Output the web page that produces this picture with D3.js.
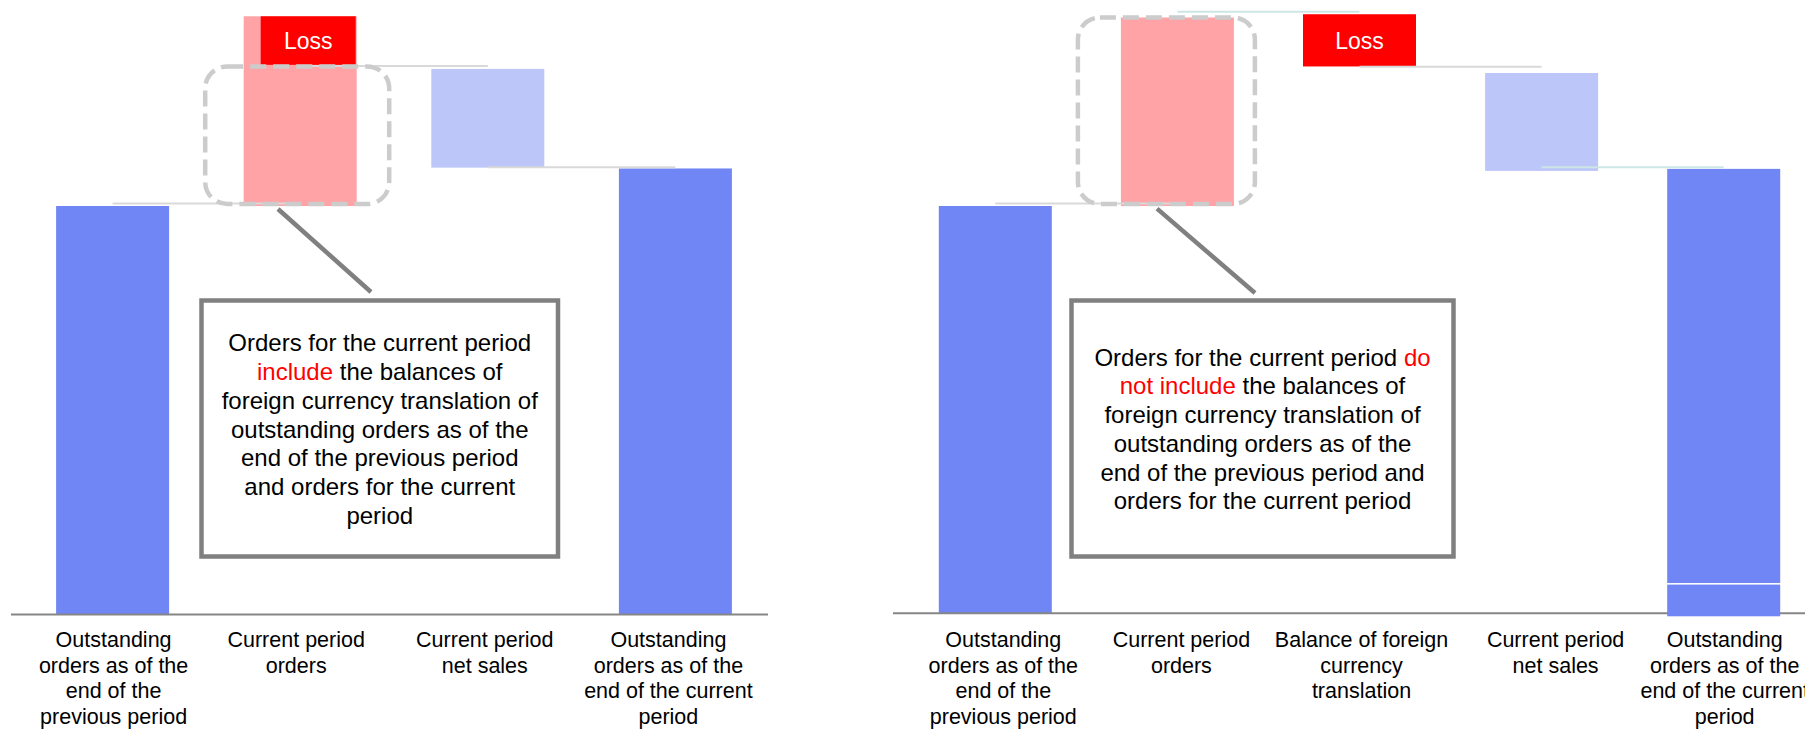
<!DOCTYPE html>
<html><head><meta charset="utf-8">
<script src="https://cdn.jsdelivr.net/npm/d3@7"></script>
<style>
html,body{margin:0;padding:0;background:#fff;overflow:hidden;}
svg{display:block;font-family:"Liberation Sans",Arial,Helvetica,sans-serif;}
</style></head><body>
<svg id="chart" width="1805" height="730"></svg>
<script>
// ---------- DATA ----------
// Left panel: waterfall where current period orders include FX translation
const leftCategories = [
  ["Outstanding", "orders as of the", "end of the", "previous period"],
  ["Current period", "orders"],
  ["Current period", "net sales"],
  ["Outstanding", "orders as of the", "end of the current", "period"]
];
const leftKinds = ["total", "increase", "decrease", "total"];
const leftLow  = [0, 100, 109.4, 0];
const leftHigh = [100, 146.5, 133.6, 109.2];
const leftLossRange = [134.6, 146.5];          // "Loss" overlay on the orders bar
const leftLinks = [100.5, 134.2, 109.4];       // connector levels between bars
const leftHighlight = [100.5, 134.2];          // dashed highlight range (orders bar)
const leftNote = [
  [["Orders for the current period", false]],
  [["include", true], [" the balances of", false]],
  [["foreign currency translation of", false]],
  [["outstanding orders as of the", false]],
  [["end of the previous period", false]],
  [["and orders for the current", false]],
  [["period", false]]
];

// Right panel: FX translation shown as its own step
const rightCategories = [
  ["Outstanding", "orders as of the", "end of the", "previous period"],
  ["Current period", "orders"],
  ["Balance of foreign", "currency", "translation"],
  ["Current period", "net sales"],
  ["Outstanding", "orders as of the", "end of the current", "period"]
];
const rightKinds = ["total", "increase", "loss", "decrease", "total"];
const rightLow  = [0, 100, 134.2, 108.6, 0];
const rightHigh = [100, 146.2, 147, 132.6, 109.1];
const rightEndSplit = 7.4;                      // split inside the closing bar
const rightLinks = [100.5, 147.5, 134, 109.4];
const rightHighlight = [100.5, 146.2];
const rightNote = [
  [["Orders for the current period ", false], ["do", true]],
  [["not include", true], [" the balances of", false]],
  [["foreign currency translation of", false]],
  [["outstanding orders as of the", false]],
  [["end of the previous period and", false]],
  [["orders for the current period", false]]
];

// ---------- STYLE ----------
const C = {
  total: "#7086F5",
  increase: "#FFA3A6",
  decrease: "#BCC6F8",
  loss: "#FF0000",
  axis: "#868686",
  link: "#D9D9D9",
  linkTeal: "#CDE5E5",
  dash: "#CCCCCC",
  box: "#808080",
  red: "#FF0000",
  text: "#000000"
};

const svg = d3.select("#chart");
const y = d3.scaleLinear().domain([0, 100]).range([614, 206]);

function bandScale(cats, firstStart, step, bw) {
  const pi = 1 - bw / step, po = pi / 2;
  const r0 = firstStart - po * step;
  return d3.scaleBand().domain(d3.range(cats.length))
    .range([r0, r0 + cats.length * step]).paddingInner(pi).paddingOuter(po);
}

function drawPanel(opt) {
  const g = svg.append("g");
  const x = bandScale(opt.cats, opt.firstStart, opt.step, 113);
  const bw = x.bandwidth();
  const cx = i => x(i) + bw / 2;

  // bars
  opt.kinds.forEach((k, i) => {
    if (k === "loss") return;
    if (opt.split && i === opt.kinds.length - 1) {
      g.append("rect").attr("x", x(i)).attr("width", bw)
        .attr("y", y(opt.split) + 0.8).attr("height", y(0) + 2.3 - y(opt.split) - 0.8)
        .attr("fill", C.total).attr("class", "late");
      g.append("rect").attr("x", x(i)).attr("width", bw)
        .attr("y", y(opt.high[i])).attr("height", y(opt.split) - 0.8 - y(opt.high[i]))
        .attr("fill", C.total);
      return;
    }
    g.append("rect").attr("x", x(i)).attr("width", bw)
      .attr("y", y(opt.high[i])).attr("height", y(opt.low[i]) - y(opt.high[i]))
      .attr("fill", C[k]);
  });

  // loss boxes
  const lossBoxes = [];
  if (opt.lossOverlay) {
    lossBoxes.push({x0: x(1) + 17, x1: x(1) + bw - 1, hi: opt.lossOverlay[1], lo: opt.lossOverlay[0]});
  }
  opt.kinds.forEach((k, i) => {
    if (k === "loss") lossBoxes.push({x0: x(i), x1: x(i) + bw, hi: opt.high[i], lo: opt.low[i]});
  });
  lossBoxes.forEach(b => {
    g.append("rect").attr("x", b.x0).attr("width", b.x1 - b.x0)
      .attr("y", y(b.hi)).attr("height", y(b.lo) - y(b.hi)).attr("fill", C.loss);
    g.append("text").attr("x", (b.x0 + b.x1) / 2).attr("y", (y(b.hi) + y(b.lo)) / 2 + 8.5)
      .attr("text-anchor", "middle").attr("fill", "#fff").attr("font-size", 23).text("Loss");
  });

  // connectors
  opt.links.forEach((lv, i) => {
    g.append("line").attr("x1", cx(i)).attr("x2", cx(i + 1))
      .attr("y1", y(lv) - 0.5).attr("y2", y(lv) - 0.5)
      .attr("stroke", opt.linkColors[i]).attr("stroke-width", 2);
  });

  // dashed highlight around the orders bar
  const hx = cx(1) + opt.hlShift;
  g.append("rect").attr("x", hx - opt.hlWidth / 2).attr("width", opt.hlWidth)
    .attr("y", y(opt.highlight[1])).attr("height", y(opt.highlight[0]) - y(opt.highlight[1]))
    .attr("rx", 22).attr("ry", 22).attr("fill", "none")
    .attr("stroke", C.dash).attr("stroke-width", 4.5).attr("stroke-dasharray", "16 7");

  // callout
  g.append("line").attr("x1", opt.callout[0]).attr("y1", opt.callout[1])
    .attr("x2", opt.callout[2]).attr("y2", opt.callout[3])
    .attr("stroke", C.box).attr("stroke-width", 4.5);

  // note box
  const bx = opt.box;
  g.append("rect").attr("x", bx[0]).attr("y", bx[1]).attr("width", bx[2] - bx[0]).attr("height", bx[3] - bx[1])
    .attr("fill", "#fff").attr("stroke", C.box).attr("stroke-width", 4.5);
  const lh = 28.7, n = opt.note.length;
  const bcx = (bx[0] + bx[2]) / 2, bcy = (bx[1] + bx[3]) / 2;
  opt.note.forEach((line, li) => {
    const t = g.append("text").attr("x", bcx).attr("y", bcy - (n - 1) / 2 * lh + 9 + li * lh)
      .attr("text-anchor", "middle").attr("font-size", 24).attr("fill", C.text);
    line.forEach(([s, red]) => {
      t.append("tspan").attr("fill", red ? C.red : C.text).text(s);
    });
  });

  // axis line
  g.append("line").attr("x1", opt.axis[0]).attr("x2", opt.axis[1])
    .attr("y1", opt.axis[2]).attr("y2", opt.axis[2])
    .attr("stroke", C.axis).attr("stroke-width", 2);
  g.selectAll("rect.late").raise();

  // category labels
  opt.cats.forEach((lines, i) => {
    const t = g.append("text").attr("text-anchor", "middle").attr("font-size", 21.5).attr("fill", C.text);
    lines.forEach((s, li) => {
      t.append("tspan").attr("x", opt.labelX(i, cx)).attr("y", 647 + li * 25.7).text(s);
    });
  });
}

drawPanel({
  cats: leftCategories, kinds: leftKinds, low: leftLow, high: leftHigh,
  firstStart: 56.1, step: 187.6,
  lossOverlay: leftLossRange, links: leftLinks,
  linkColors: [C.link, C.link, C.link],
  highlight: leftHighlight, hlWidth: 184, hlShift: -3,
  callout: [278, 209, 371, 292],
  box: [201.5, 300.5, 558, 556.5],
  note: leftNote,
  axis: [11, 768, 614.6],
  labelX: (i, cx) => cx(i) + [1, -4, -3, -7][i]
});

drawPanel({
  cats: rightCategories, kinds: rightKinds, low: rightLow, high: rightHigh,
  firstStart: 938.8, step: 182.1, split: rightEndSplit,
  links: rightLinks,
  linkColors: [C.link, C.linkTeal, C.link, C.linkTeal],
  highlight: rightHighlight, hlWidth: 177, hlShift: -11,
  callout: [1157, 208.6, 1255, 293],
  box: [1071.5, 300.5, 1453.5, 556.5],
  note: rightNote,
  axis: [893, 1805, 613.2],
  labelX: (i, cx) => cx(i) + [8, 4, 2, 14, 1][i]
});
</script>
</body></html>
